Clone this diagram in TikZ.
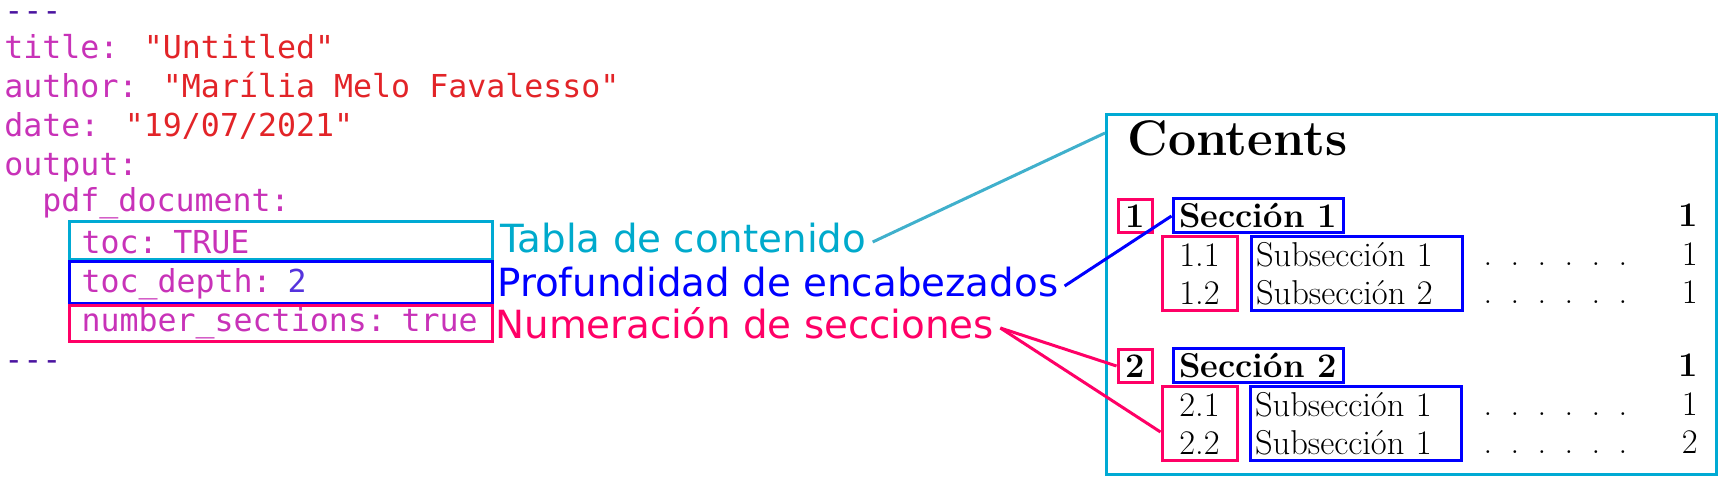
\documentclass[tikz,border=0pt]{standalone}
\usepackage{fontspec}
\newfontfamily\codefont{DejaVu Sans Mono}
\newfontfamily\labelfont{DejaVu Sans}

\definecolor{yamldash}{HTML}{4B14A0}
\definecolor{yamlkey}{HTML}{C832B8}
\definecolor{yamlstr}{HTML}{E22428}
\definecolor{yamlnum}{HTML}{5533DD}
\definecolor{hlcyan}{HTML}{00AAD4}
\definecolor{labcyan}{HTML}{00AACC}
\definecolor{linkcyan}{HTML}{40B0CC}
\definecolor{hlblue}{HTML}{0000FF}
\definecolor{hlpink}{HTML}{FF0066}

\newcommand{\dq}{\symbol{34}}
\newcommand{\ykey}[1]{\textcolor{yamlkey}{#1}}
\newcommand{\ystr}[1]{\textcolor{yamlstr}{#1}}
\newcommand{\tocfont}{\fontsize{17.25pt}{19pt}\selectfont}
\newcommand{\tocdots}{\hbox to 81pt{\xleaders\hbox to 13.5pt{\hss.\hss}\hfill}}

\begin{document}
\begin{tikzpicture}[
  x=0.5pt, y=-0.5pt,
  codeline/.style={anchor=base west, inner sep=0pt, font=\codefont\fontsize{15.8pt}{19pt}\selectfont},
  hlbox/.style={codeline, draw=#1, line width=1.5pt, inner xsep=6pt, inner ysep=0pt, text width=199.5pt, align=left},
  note/.style={anchor=base west, inner ysep=0pt, inner xsep=3pt, text height=11pt, text depth=0pt, font=\labelfont\fontsize{19.4pt}{23pt}\selectfont, text=#1},
  link/.style={draw=#1, line width=1.5pt},
  secnum/.style={draw=hlpink, line width=1.5pt, inner sep=0pt, minimum width=17pt, minimum height=16.5pt, font=\tocfont\bfseries},
  sectitle/.style={draw=hlblue, line width=1.5pt, inner sep=0pt, minimum width=85pt, minimum height=17pt, font=\tocfont\bfseries},
  subnum/.style={draw=hlpink, line width=1.5pt, inner sep=0pt, minimum width=37.5pt, minimum height=37pt, align=center, font=\tocfont},
  subtitle/.style={draw=hlblue, line width=1.5pt, inner xsep=2.5pt, inner ysep=0pt, text width=100.5pt, minimum height=37pt, align=left, font=\tocfont},
  tocentry/.style={inner sep=0pt, font=\tocfont}
]
\useasboundingbox (0,0) rectangle (1726,480);

% YAML header
\node[codeline] (dashtop) at (4,22) {\textcolor{yamldash}{-{}-{}-}};
\node[codeline] (title) at (4,59) {\ykey{title:} \ystr{\dq Untitled\dq}};
\node[codeline] (author) at (4,98) {\ykey{author:} \ystr{\dq Marília Melo Favalesso\dq}};
\node[codeline] (date) at (4,137) {\ykey{date:} \ystr{\dq 19/07/2021\dq}};
\node[codeline] (output) at (4,176) {\ykey{output:}};
\node[codeline] (pdfdoc) at (42,212) {\ykey{pdf\_document:}};
\node[hlbox=hlcyan, text height=16pt, text depth=3pt] (toc) at (68,254) {\ykey{toc: TRUE}};
\node[hlbox=hlblue, text height=15.5pt, text depth=5.5pt] (tocdepth) at (68,293) {\ykey{toc\_depth:} \textcolor{yamlnum}{2}};
\node[hlbox=hlpink, text height=13pt, text depth=5pt] (numsec) at (68,332) {\ykey{number\_sections: true}};
\node[codeline] (dashbot) at (4,371) {\textcolor{yamldash}{-{}-{}-}};

% Labels
\node[note=labcyan] (tabla) at (494,253) {Tabla de contenido};
\node[note=hlblue] (prof) at (491,297) {Profundidad de encabezados};
\node[note=hlpink] (numer) at (489,339) {Numeración de secciones};

% Table of contents
\node[draw=hlcyan, line width=1.5pt, inner sep=0pt, minimum width=305pt, minimum height=180pt, anchor=north west] (frame) at (1105,113) {};
\node[anchor=base west, inner sep=0pt, font=\fontsize{25pt}{30pt}\selectfont\bfseries] (contents) at (1127,156) {Contents};

\node[secnum] (sec1n) at (1135,216.5) {1};
\node[sectitle] (sec1t) at (1258,216) {Sección 1};
\node[tocentry, anchor=base east, font=\tocfont\bfseries] (sec1p) at (1698,227) {1};
\node[subnum] (sub1n) at (1199.5,274) {1.1\\1.2};
\node[subtitle] (sub1t) at (1356.5,274) {Subsección 1\\Subsección 2};
\node[tocentry, anchor=base west] (dots11) at (1474,266) {\tocdots};
\node[tocentry, anchor=base west] (dots12) at (1474,304) {\tocdots};
\node[tocentry, anchor=base east] (page11) at (1698,266) {1};
\node[tocentry, anchor=base east] (page12) at (1698,304) {1};

\node[secnum] (sec2n) at (1135,366) {2};
\node[sectitle] (sec2t) at (1258,366) {Sección 2};
\node[tocentry, anchor=base east, font=\tocfont\bfseries] (sec2p) at (1698,377) {1};
\node[subnum] (sub2n) at (1199.5,424) {2.1\\2.2};
\node[subtitle] (sub2t) at (1355.5,424) {Subsección 1\\Subsección 1};
\node[tocentry, anchor=base west] (dots21) at (1474,416) {\tocdots};
\node[tocentry, anchor=base west] (dots22) at (1474,454) {\tocdots};
\node[tocentry, anchor=base east] (page21) at (1698,416) {1};
\node[tocentry, anchor=base east] (page22) at (1698,454) {2};

% Connectors
\draw[link=linkcyan] (tabla.east) -- ([yshift=-10pt]frame.north west);
\draw[link=hlblue] (prof.east) -- (sec1t.west);
\draw[link=hlpink] (numer.east) -- (sec2n.west);
\draw[link=hlpink] (numer.east) -- ([yshift=-4pt]sub2n.west);

\end{tikzpicture}
\end{document}
